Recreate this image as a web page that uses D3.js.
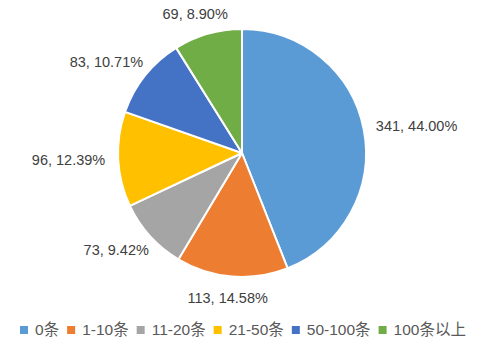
<!DOCTYPE html>
<html>
<head>
<meta charset="utf-8">
<script src="https://cdn.jsdelivr.net/npm/d3@7"></script>
<style>
  html, body { margin: 0; padding: 0; background: #fff; }
  svg { display: block; }
  text { font-family: "Liberation Sans", "Noto Sans CJK SC", sans-serif; }
</style>
</head>
<body>
<svg id="chart" width="484" height="352"></svg>
<script>
const categories = ["0条", "1-10条", "11-20条", "21-50条", "50-100条", "100条以上"];
const values = [341, 113, 73, 96, 83, 69];
const colors = ["#5B9BD5", "#ED7D31", "#A5A5A5", "#FFC000", "#4472C4", "#70AD47"];

const W = 484, H = 352;
const cx = 242, cy = 153, R = 124, labelR = 137;
const fontSize = 14.5;

const svg = d3.select("#chart");
const total = d3.sum(values);
const data = categories.map((c, i) => ({ cat: c, value: values[i], color: colors[i] }));

const pie = d3.pie().value(d => d.value).sort(null).startAngle(0).endAngle(2 * Math.PI);
const arc = d3.arc().innerRadius(0).outerRadius(R);
const arcs = pie(data);

const g = svg.append("g").attr("transform", `translate(${cx},${cy})`);
g.selectAll("path.slice").data(arcs).enter().append("path")
  .attr("class", "slice")
  .attr("d", arc)
  .attr("fill", d => d.data.color)
  .attr("stroke", "#fff")
  .attr("stroke-width", 2)
  .attr("stroke-linejoin", "round");

// labels
arcs.forEach(a => {
  const mid = (a.startAngle + a.endAngle) / 2;
  const s = Math.sin(mid), c = Math.cos(mid);
  const txt = `${a.data.value}, ${(a.data.value / total * 100).toFixed(2)}%`;
  const t = g.append("text")
    .attr("font-size", fontSize)
    .attr("fill", "#404040")
    .attr("text-anchor", "middle")
    .attr("dy", "0.35em")
    .text(txt);
  const w = t.node().getComputedTextLength();
  const h = 16;
  const ax = labelR * s, ay = -labelR * c;
  t.attr("x", ax + (w / 2) * s).attr("y", ay - (h / 2) * c);
});

// legend
const legendY = 330;
const legendFont = 15.5;
const marker = 8, gapMT = 7, gapItem = 8;
const lg = svg.append("g");
let x = 0;
data.forEach(d => {
  const it = lg.append("g");
  it.append("rect").attr("x", 0).attr("y", -marker / 2).attr("width", marker).attr("height", marker).attr("fill", d.color);
  const t = it.append("text").attr("x", marker + gapMT).attr("y", 0).attr("dy", "0.35em")
    .attr("font-size", legendFont).attr("fill", "#595959").text(d.cat);
  const w = marker + gapMT + t.node().getComputedTextLength();
  it.attr("transform", `translate(${x},${legendY})`);
  x += w + gapItem;
});
const totalW = x - gapItem;
lg.attr("transform", `translate(${243 - totalW / 2},0)`);
</script>
</body>
</html>
